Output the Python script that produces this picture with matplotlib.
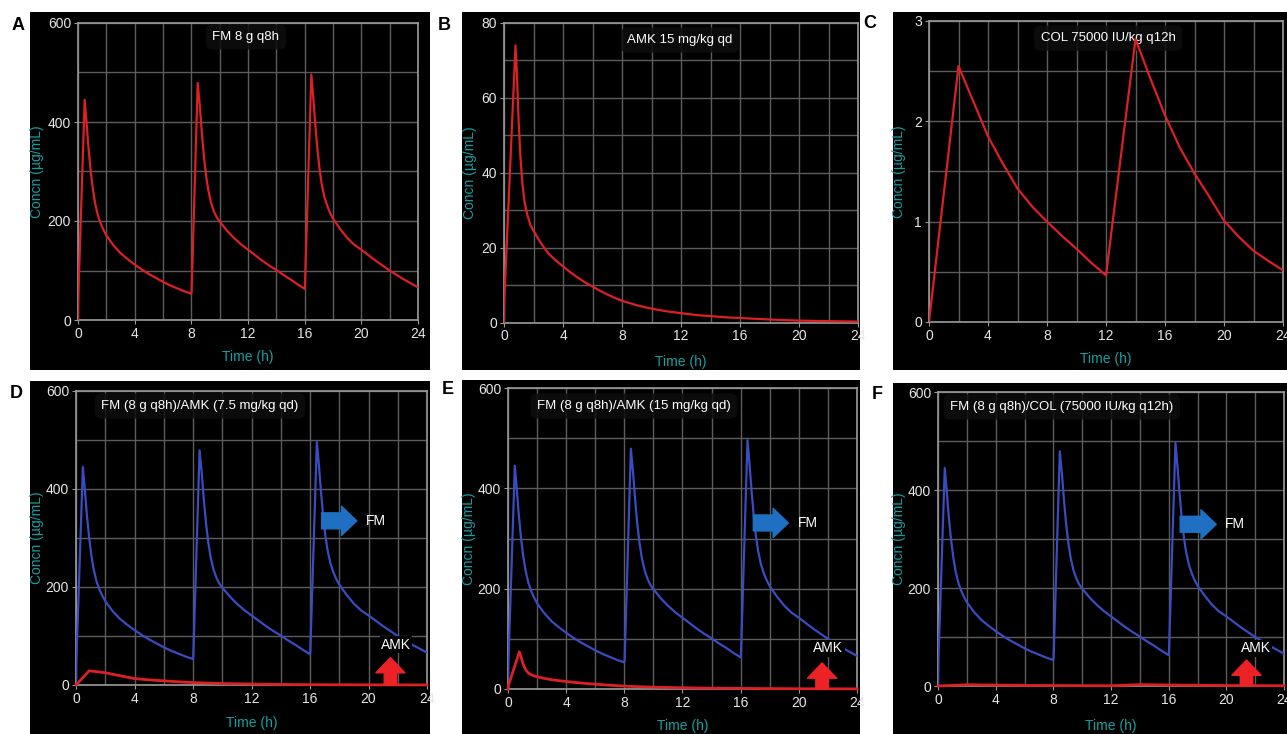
import matplotlib
matplotlib.use("Agg")
import matplotlib.pyplot as plt
from matplotlib.patches import Rectangle
from matplotlib.ticker import MultipleLocator

plt.rcParams['font.family'] = ['Liberation Sans', 'DejaVu Sans']

# Fosfomycin 8 g q8h
fm_time = [0, 0.02, 0.47, 0.6, 0.75, 0.9, 1.05, 1.2, 1.4, 1.6, 1.8, 2.0, 2.5, 3.0,
           3.5, 4.0, 4.5, 5.0, 5.5, 6.0, 6.5, 7.0, 7.5, 8.0,
           8.02, 8.45, 8.6, 8.75, 8.9, 9.05, 9.2, 9.4, 9.6, 9.8, 10.0, 10.5, 11.0,
           11.5, 12.0, 12.5, 13.0, 13.5, 14.0, 14.5, 15.0, 15.5, 16.0,
           16.02, 16.47, 16.6, 16.75, 16.9, 17.05, 17.2, 17.4, 17.6, 17.8, 18.0, 18.5,
           19.0, 19.5, 20.0, 20.5, 21.0, 21.5, 22.0, 22.5, 23.0, 23.5, 24.0]
fm_conc = [0, 45, 445, 400, 345, 300, 265, 237, 212, 195, 182, 171, 151, 135,
           123, 112, 102, 93, 85, 77, 70, 64, 58, 53,
           58, 479, 432, 375, 327, 290, 262, 236, 219, 207, 199, 181, 166,
           153, 142, 131, 120, 110, 101, 91, 82, 72, 63,
           68, 496, 452, 395, 345, 305, 275, 248, 230, 216, 205, 184,
           166, 152, 142, 131, 120, 110, 100, 91, 82, 74, 66]

# Amikacin 15 mg/kg qd (panel B)
amk15_time = [0, 0.02, 0.78, 0.88, 0.98, 1.1, 1.25, 1.4, 1.6, 1.8, 2.0, 2.5, 3.0,
              3.5, 4.0, 4.5, 5.0, 5.5, 6.0, 6.5, 7.0, 7.5, 8.0, 9, 10, 11, 12,
              13, 14, 15, 16, 18, 20, 22, 24]
amk15_conc = [0, 6, 74, 66, 55, 45, 37, 32, 28.5, 26, 24.5, 21.2, 18.5,
              16.6, 15, 13.4, 12, 10.7, 9.6, 8.5, 7.5, 6.6, 5.8, 4.6, 3.7, 3.0, 2.5,
              2.0, 1.7, 1.4, 1.2, 0.8, 0.5, 0.35, 0.25]

# Amikacin 7.5 mg/kg qd (panel D)
amk75_time = [0, 0.9, 1.2, 1.6, 2, 2.5, 3, 3.5, 4, 5, 6, 7, 8, 9, 10, 12, 14, 16, 20, 24]
amk75_conc = [0, 29, 28, 26.5, 25, 22, 19, 16, 13, 10.5, 8.5, 6.5, 5, 4, 3, 2, 1.2,
              0.7, 0.3, 0.15]

# Colistin 75000 IU/kg q12h (panel C)
col_time = [0, 2, 3, 4, 5, 6, 7, 8, 9, 10, 11, 12,
            14, 15, 16, 17, 18, 19, 20, 21, 22, 23, 24]
col_conc = [0, 2.55, 2.2, 1.85, 1.58, 1.33, 1.15, 1.0, 0.86, 0.73, 0.59, 0.465,
            2.82, 2.43, 2.06, 1.74, 1.48, 1.25, 1.01, 0.85, 0.71, 0.61, 0.515]

W, H = 1287, 734
fig = plt.figure(figsize=(W / 100, H / 100), dpi=100)
fig.patch.set_facecolor('white')

teal = '#14a0a0'
red = '#dc2026'
blue = '#3a4cc0'


def px_box(l, t, r, b):
    return [l / W, 1 - b / H, (r - l) / W, (b - t) / H]


def black_bg(x0, y0, x1, y1):
    fig.add_artist(Rectangle((x0 / W, 1 - y1 / H), (x1 - x0) / W, (y1 - y0) / H,
                             transform=fig.transFigure, facecolor='black',
                             edgecolor='none', zorder=0))


def make_axes(box, ymax, ymajor, yminor, letter, title, title_xy, ylab_x, xlab_y):
    ax = fig.add_axes(px_box(*box))
    ax.set_facecolor('black')
    ax.set_xlim(0, 24)
    ax.set_ylim(0, ymax)
    ax.xaxis.set_major_locator(MultipleLocator(4))
    ax.xaxis.set_minor_locator(MultipleLocator(2))
    ax.yaxis.set_major_locator(MultipleLocator(ymajor))
    ax.yaxis.set_minor_locator(MultipleLocator(yminor))
    ax.grid(True, which='both', color='#5c5c5c', linewidth=1.0)
    ax.set_axisbelow(True)
    for s in ax.spines.values():
        s.set_color('#9a9a9a')
        s.set_linewidth(1.2)
    ax.tick_params(which='major', colors='#9a9a9a', labelcolor='#e6e6e6',
                   labelsize=10, length=3, pad=2)
    ax.tick_params(which='minor', length=0)
    ax.set_xlabel('Time (h)', color=teal, fontsize=10)
    ax.set_ylabel('Concn (µg/mL)', color=teal, fontsize=10)
    ax.xaxis.label.set_va('center')
    ax.yaxis.label.set_va('center')
    ax.yaxis.set_label_coords(ylab_x, 0.5)
    ax.xaxis.set_label_coords(0.5, xlab_y)
    ax.text(title_xy[0], title_xy[1], title, transform=ax.transAxes, color='white',
            fontsize=9.5, ha='center', va='center', zorder=2.5,
            bbox=dict(boxstyle='round,pad=0.5', facecolor='#0e0e0e',
                      edgecolor='none', alpha=0.85))
    fig.text((box[0] - 66) / W, 1 - (box[1] + 2) / H, letter, fontsize=13,
             fontweight='bold', ha='left', va='center')
    return ax


def add_markers(ax, blue_x0, blue_x1, blue_y, fm_x, amk_x, amk_y, red_x, red_top):
    ax.annotate('', xy=(blue_x1, blue_y), xytext=(blue_x0, blue_y),
                arrowprops=dict(arrowstyle='simple,head_length=11,head_width=21,tail_width=11.5',
                                color='#1f6fc2', mutation_scale=1,
                                shrinkA=0, shrinkB=0), zorder=5)
    ax.text(fm_x, blue_y, 'FM', color='white', fontsize=10, ha='left', va='center')
    ax.text(amk_x, amk_y, 'AMK', color='white', fontsize=10, ha='left', va='center',
            zorder=4, bbox=dict(facecolor='black', edgecolor='none', pad=1))
    ax.annotate('', xy=(red_x, red_top), xytext=(red_x, 0),
                arrowprops=dict(arrowstyle='simple,head_length=11,head_width=21,tail_width=9',
                                color='#ec2227', mutation_scale=1,
                                shrinkA=0, shrinkB=0), zorder=5)


# black panels
black_bg(30, 12, 430, 370)
black_bg(462, 12, 860, 370)
black_bg(893, 12, 1287, 370)
black_bg(30, 381, 430, 734)
black_bg(462, 380, 860, 734)
black_bg(893, 383, 1287, 734)

# A
ax = make_axes((78, 23, 418, 320), 600, 200, 100, 'A', 'FM 8 g q8h',
               (0.494, 0.953), -0.12, -0.125)
ax.plot(fm_time, fm_conc, color=red, lw=1.6, zorder=3)

# B
ax = make_axes((504, 23, 858, 322.5), 80, 20, 10, 'B', 'AMK 15 mg/kg qd',
               (0.497, 0.943), -0.096, -0.131)
ax.plot(amk15_time, amk15_conc, color=red, lw=1.6, zorder=3)

# C
ax = make_axes((929, 21, 1283, 322), 3, 1, 0.5, 'C', 'COL 75000 IU/kg q12h',
               (0.506, 0.943), -0.085, -0.124)
ax.plot(col_time, col_conc, color=red, lw=1.6, zorder=3)

# D
ax = make_axes((76, 391, 427, 685), 600, 200, 100, 'D', 'FM (8 g q8h)/AMK (7.5 mg/kg qd)',
               (0.353, 0.949), -0.111, -0.13)
ax.plot(fm_time, fm_conc, color=blue, lw=1.6, zorder=3)
ax.plot(amk75_time, amk75_conc, color=red, lw=2.0, zorder=3, clip_on=False)
add_markers(ax, 16.8, 19.2, 335, 19.8, 20.85, 82, 21.5, 56)

# E
ax = make_axes((508, 388, 857, 689), 600, 200, 100, 'E', 'FM (8 g q8h)/AMK (15 mg/kg qd)',
               (0.361, 0.94), -0.112, -0.123)
ax.plot(fm_time, fm_conc, color=blue, lw=1.6, zorder=3)
ax.plot(amk15_time, amk15_conc, color=red, lw=2.0, zorder=3, clip_on=False)
add_markers(ax, 16.87, 19.28, 331, 19.9, 21.0, 81, 21.6, 52)

# F
ax = make_axes((938, 392, 1284, 686), 600, 200, 100, 'F', 'FM (8 g q8h)/COL (75000 IU/kg q12h)',
               (0.358, 0.949), -0.113, -0.136)
ax.plot(fm_time, fm_conc, color=blue, lw=1.6, zorder=3)
ax.plot(col_time, col_conc, color=red, lw=2.0, zorder=3, clip_on=False)
add_markers(ax, 16.8, 19.3, 330, 19.9, 21.0, 77, 21.4, 53)

fig.savefig('out.png', dpi=100, facecolor=fig.get_facecolor())
